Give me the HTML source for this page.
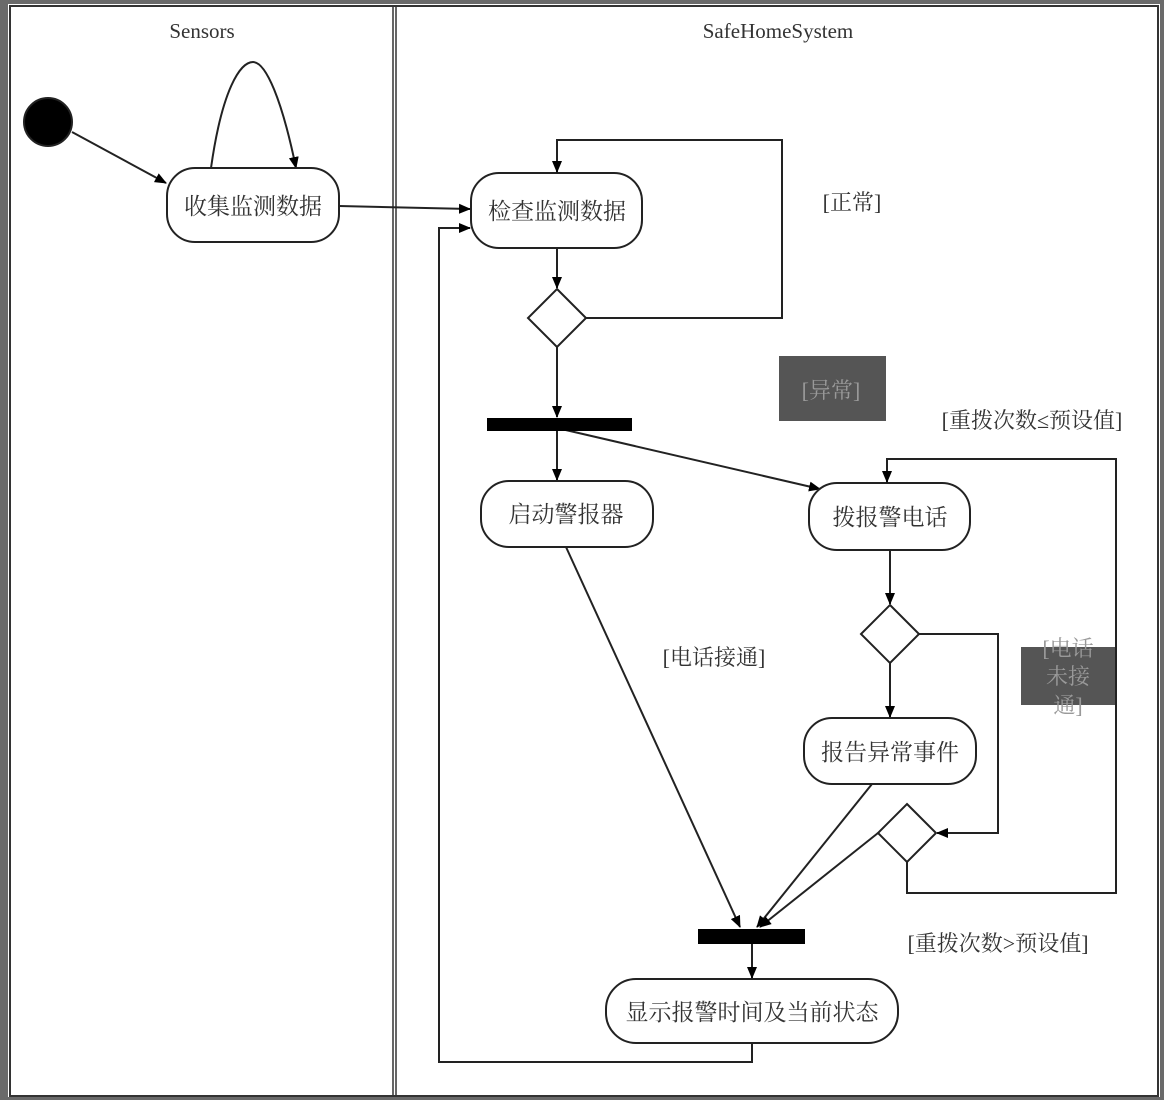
<!DOCTYPE html>
<html><head><meta charset="utf-8"><style>
html,body{margin:0;padding:0;background:#fff;}
svg{display:block;}
text{font-family:"Liberation Serif","Noto Serif CJK SC",serif;fill:#333;}
</style></head><body>
<svg width="1164" height="1100" viewBox="0 0 1164 1100" xmlns="http://www.w3.org/2000/svg">
<defs>
<marker id="a" markerWidth="12" markerHeight="10" refX="11" refY="5" orient="auto" markerUnits="userSpaceOnUse">
<path d="M0,0 L12,5 L0,10 Z" fill="#000"/></marker>
</defs>
<rect x="0" y="0" width="1164" height="1100" fill="#fff"/>
<rect x="0" y="0" width="8" height="1100" fill="#6a6a6a"/>
<rect x="1160" y="0" width="4" height="1100" fill="#6a6a6a"/>
<rect x="0" y="0" width="1164" height="4" fill="#6a6a6a"/>
<rect x="0" y="1097" width="1164" height="3" fill="#6a6a6a"/>
<rect x="10" y="6" width="1148" height="1090" fill="none" stroke="#333" stroke-width="2"/>
<line x1="393" y1="6" x2="393" y2="1096" stroke="#333" stroke-width="1.5"/>
<line x1="396" y1="6" x2="396" y2="1096" stroke="#333" stroke-width="1.5"/>
<text x="202" y="38" font-size="21" text-anchor="middle">Sensors</text>
<text x="778" y="38" font-size="21" text-anchor="middle">SafeHomeSystem</text>

<g fill="none" stroke="#222" stroke-width="2">
<circle cx="48" cy="122" r="24" fill="#000"/>
<line x1="72" y1="132" x2="166" y2="183" marker-end="url(#a)"/>
<path d="M211,168 C222,90 240,62 253,62 C266,62 282,100 296,168" marker-end="url(#a)"/>
<rect x="167" y="168" width="172" height="74" rx="28"/>
<line x1="339" y1="206" x2="470" y2="209" marker-end="url(#a)"/>
<rect x="471" y="173" width="171" height="75" rx="28"/>
<path d="M586,318 L782,318 L782,140 L557,140 L557,172" marker-end="url(#a)"/>
<line x1="557" y1="248" x2="557" y2="288" marker-end="url(#a)"/>
<path d="M557,289 L586,318 L557,347 L528,318 Z" fill="#fff"/>
<line x1="557" y1="347" x2="557" y2="417" marker-end="url(#a)"/>
<line x1="557" y1="431" x2="557" y2="480" marker-end="url(#a)"/>
<line x1="557" y1="428" x2="820" y2="489" marker-end="url(#a)"/>
<rect x="481" y="481" width="172" height="66" rx="28"/>
<rect x="809" y="483" width="161" height="67" rx="28"/>
<path d="M907,862 L907,893 L1116,893 L1116,459 L887,459 L887,482" marker-end="url(#a)"/>
<line x1="890" y1="550" x2="890" y2="604" marker-end="url(#a)"/>
<path d="M890,605 L919,634 L890,663 L861,634 Z" fill="#fff"/>
<path d="M919,634 L998,634 L998,833 L937,833" marker-end="url(#a)"/>
<line x1="890" y1="663" x2="890" y2="717" marker-end="url(#a)"/>
<rect x="804" y="718" width="172" height="66" rx="28"/>
<path d="M907,804 L936,833 L907,862 L878,833 Z" fill="#fff"/>
<line x1="566" y1="547" x2="740" y2="927" marker-end="url(#a)"/>
<line x1="872" y1="784" x2="757" y2="927" marker-end="url(#a)"/>
<line x1="878" y1="833" x2="760" y2="927" marker-end="url(#a)"/>
<line x1="752" y1="944" x2="752" y2="978" marker-end="url(#a)"/>
<rect x="606" y="979" width="292" height="64" rx="30"/>
<path d="M752,1043 L752,1062 L439,1062 L439,228 L470,228" marker-end="url(#a)"/>
</g>
<rect x="487" y="418" width="145" height="13" fill="#000"/>
<rect x="698" y="929" width="107" height="15" fill="#000"/>
<rect x="779" y="356" width="107" height="65" fill="#555"/>
<rect x="1021" y="647" width="94" height="58" fill="#555"/>

<g font-size="23" text-anchor="middle">
<text x="253" y="214">收集监测数据</text>
<text x="557" y="219">检查监测数据</text>
<text x="566" y="522">启动警报器</text>
<text x="890" y="525">拨报警电话</text>
<text x="890" y="760">报告异常事件</text>
<text x="752" y="1020">显示报警时间及当前状态</text>
<text x="852" y="210" font-size="22">[正常]</text>
<text x="831" y="398" font-size="22" style="fill:#999">[异常]</text>
<text x="1032" y="428" font-size="22">[重拨次数≤预设值]</text>
<text x="714" y="665" font-size="22">[电话接通]</text>
<text x="998" y="951" font-size="22">[重拨次数&gt;预设值]</text>
<text x="1068" y="656" font-size="22" style="fill:#999">[电话</text>
<text x="1068" y="684" font-size="22" style="fill:#999">未接</text>
<text x="1068" y="713" font-size="22" style="fill:#999">通]</text>
</g>
</svg>
</body></html>
